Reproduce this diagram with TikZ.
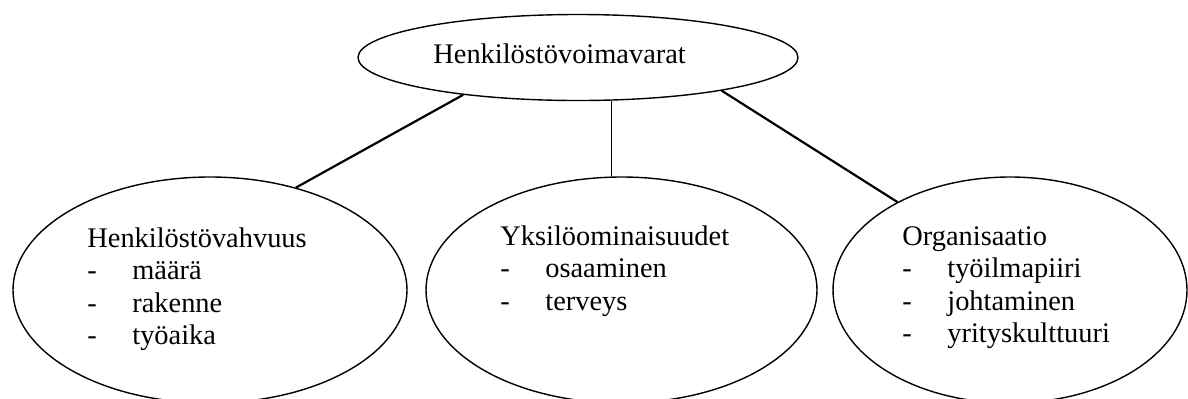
\documentclass[tikz,border=0pt]{standalone}
\usepackage{fontspec}
\setmainfont{Liberation Serif}
\usetikzlibrary{shapes.geometric}
\begin{document}
\begin{tikzpicture}[x=0.5pt,y=-0.5pt,
  oval/.style={draw, ellipse, inner sep=0pt, line width=0.7pt},
  txt/.style={anchor=base west, inner sep=0pt, font=\fontsize{14.2pt}{16.3pt}\selectfont},
  link/.style={line width=1.1pt},
  thinlink/.style={line width=0.75pt}]
\useasboundingbox (0,0) rectangle (1188,398);

% ellipses
\node[oval, minimum width=220pt, minimum height=43pt] (root) at (578,57.5) {};
\node[oval, minimum width=197pt, minimum height=113pt] (staff) at (210,290) {};
\node[oval, minimum width=195.5pt, minimum height=113pt] (indiv) at (621.5,290) {};
\node[oval, minimum width=177pt, minimum height=113pt] (org) at (1010,290) {};

% texts
\node[txt] (roottext) at (433,63) {Henkilöstövoimavarat};
\node[txt] (stafftext) at (87,247) {\begin{tabular}[t]{@{}p{22.5pt}@{}l@{}}
  \multicolumn{2}{@{}l@{}}{Henkilöstövahvuus}\\
  -& määrä\\
  -& rakenne\\
  -& työaika
\end{tabular}};
\node[txt] (indivtext) at (500,245) {\begin{tabular}[t]{@{}p{22.5pt}@{}l@{}}
  \multicolumn{2}{@{}l@{}}{Yksilöominaisuudet}\\
  -& osaaminen\\
  -& terveys
\end{tabular}};
\node[txt] (orgtext) at (902,245) {\begin{tabular}[t]{@{}p{22.5pt}@{}l@{}}
  \multicolumn{2}{@{}l@{}}{Organisaatio}\\
  -& työilmapiiri\\
  -& johtaminen\\
  -& yrityskulttuuri
\end{tabular}};

% connectors
\draw[link] (root.198.5) -- (staff.50.6);
\draw[thinlink] (root.308.7) -- (root.308.7 |- indiv.north);
\draw[link] (root.347.3) -- (org.142.2);
\end{tikzpicture}
\end{document}
